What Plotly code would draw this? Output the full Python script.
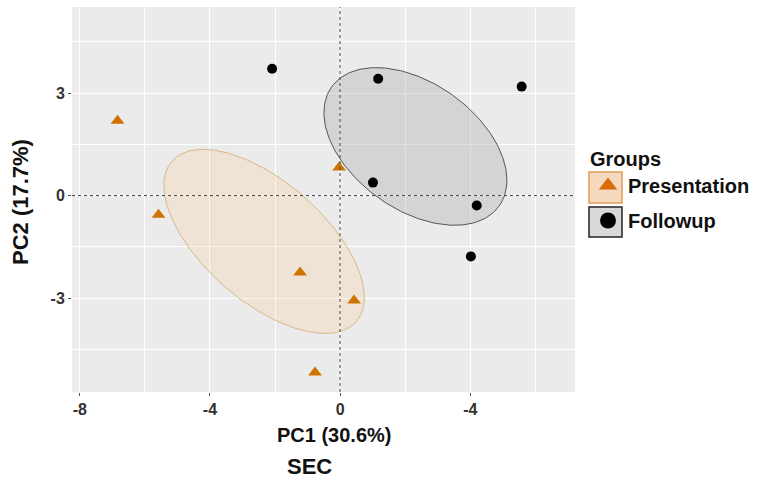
import numpy as np
import plotly.graph_objects as go

# ---- data ----
groups = ["Presentation", "Followup"]
pres_x = [-6.84, -5.58, -0.03, -1.23, 0.43, -0.77]
pres_y = [2.19, -0.56, 0.82, -2.25, -3.07, -5.18]
fol_x = [-2.09, 1.17, 5.58, 1.01, 4.20, 4.02]
fol_y = [3.71, 3.42, 3.19, 0.38, -0.29, -1.78]

x_tickvals = [-8, -4, 0, 4]
x_ticktext = ["-8", "-4", "0", "-4"]
y_tickvals = [-3, 0, 3]
y_ticktext = ["-3", "0", "3"]
x_title = "PC1 (30.6%)"
y_title = "PC2 (17.7%)"
sub_title = "SEC"
legend_title = "Groups"

W, H = 759, 485
L, R, T, B = 72, 184, 7, 93
PW, PH = W - L - R, H - T - B


def px(x):
    return (x - L) / PW


def py(y):
    return (H - B - y) / PH


def ellipse(x, y, n=240):
    X = np.vstack([x, y])
    m = X.mean(axis=1)
    C = np.cov(X)
    Lc = np.linalg.cholesky(C)
    t = np.linspace(0, 2 * np.pi, n)
    pts = m[:, None] + Lc @ np.vstack([np.cos(t), np.sin(t)])
    return pts[0], pts[1]


ORANGE = "#CF7400"
BOLD = dict(family="Liberation Sans, Arial", weight="bold")
fig = go.Figure()

ex, ey = ellipse(pres_x, pres_y)
fig.add_trace(go.Scatter(x=ex, y=ey, mode="lines", fill="toself", showlegend=False,
                         fillcolor="rgba(250,195,120,0.2)",
                         line=dict(color="#D8B887", width=1), hoverinfo="skip"))
ex, ey = ellipse(fol_x, fol_y)
fig.add_trace(go.Scatter(x=ex, y=ey, mode="lines", fill="toself", showlegend=False,
                         fillcolor="rgba(160,160,160,0.3)",
                         line=dict(color="#555555", width=1), hoverinfo="skip"))

fig.add_trace(go.Scatter(x=pres_x, y=pres_y, mode="markers", showlegend=False,
                         marker=dict(symbol="triangle-up", size=12, color=ORANGE)))
fig.add_trace(go.Scatter(x=fol_x, y=fol_y, mode="markers", showlegend=False,
                         marker=dict(symbol="circle", size=10, color="black")))

# legend entries
fig.add_trace(go.Scatter(x=[None], y=[None], mode="markers", name=groups[0], legendgroup="a",
                         marker=dict(symbol="triangle-up", size=16, color="#D86A08")))
fig.add_trace(go.Scatter(x=[None], y=[None], mode="markers", name=groups[1], legendgroup="b",
                         marker=dict(symbol="circle", size=16, color="black")))

shapes = [
    dict(type="line", xref="x", yref="paper", x0=0, x1=0, y0=0, y1=1,
         line=dict(color="#444", width=1, dash="3px,3px")),
    dict(type="line", xref="paper", yref="y", x0=0, x1=1, y0=0, y1=0,
         line=dict(color="#444", width=1, dash="3px,3px")),
    dict(type="rect", xref="paper", yref="paper", x0=px(589), x1=px(622), y0=py(203), y1=py(172),
         fillcolor="#F5D9BE", line=dict(color="#E39A55", width=1.5)),
    dict(type="rect", xref="paper", yref="paper", x0=px(589), x1=px(622), y0=py(237), y1=py(207),
         fillcolor="#D9D9D9", line=dict(color="#222222", width=1.5)),
]

annotations = [
    dict(text=x_title, xref="paper", yref="paper", x=px(334), y=py(435),
         showarrow=False, xanchor="center", yanchor="middle", font=dict(size=20, color="#111", **BOLD)),
    dict(text=sub_title, xref="paper", yref="paper", x=px(309), y=py(466),
         showarrow=False, xanchor="center", yanchor="middle", font=dict(size=22, color="#111", **BOLD)),
    dict(text=y_title, xref="paper", yref="paper", x=px(20), y=py(202),
         showarrow=False, xanchor="center", yanchor="middle", textangle=-90,
         font=dict(size=22, color="#111", **BOLD)),
]

axis_common = dict(showline=False, zeroline=False, ticks="outside", ticklen=3, tickwidth=1,
                   tickcolor="#555", gridcolor="white", gridwidth=1.3,
                   tickfont=dict(size=16, color="#333", **BOLD))

fig.update_layout(
    width=W, height=H,
    margin=dict(l=L, r=R, t=T, b=B, autoexpand=False),
    paper_bgcolor="white", plot_bgcolor="#EBEBEB",
    font=dict(family="Liberation Sans, Arial", color="#111"),
    xaxis=dict(range=[-8.24, 7.22], tickmode="array", tickvals=x_tickvals, ticktext=x_ticktext,
               minor=dict(tickvals=[-6, -2, 2, 6], showgrid=True, gridcolor="white", gridwidth=0.6, ticks=""),
               **axis_common),
    yaxis=dict(range=[-5.75, 5.52], tickmode="array", tickvals=y_tickvals, ticktext=y_ticktext,
               minor=dict(tickvals=[-4.5, -1.5, 1.5, 4.5], showgrid=True, gridcolor="white", gridwidth=0.6, ticks=""),
               **axis_common),
    showlegend=True,
    legend=dict(x=px(588), y=py(140), xanchor="left", yanchor="top",
                bgcolor="rgba(0,0,0,0)", traceorder="grouped", tracegroupgap=6,
                title=dict(text=legend_title, font=dict(size=20, color="#111", **BOLD)),
                font=dict(size=20, color="#111", **BOLD)),
    shapes=shapes,
    annotations=annotations,
)

fig.write_html("out.html", config={"displayModeBar": False},
               post_script="document.body.style.margin='0px';")
